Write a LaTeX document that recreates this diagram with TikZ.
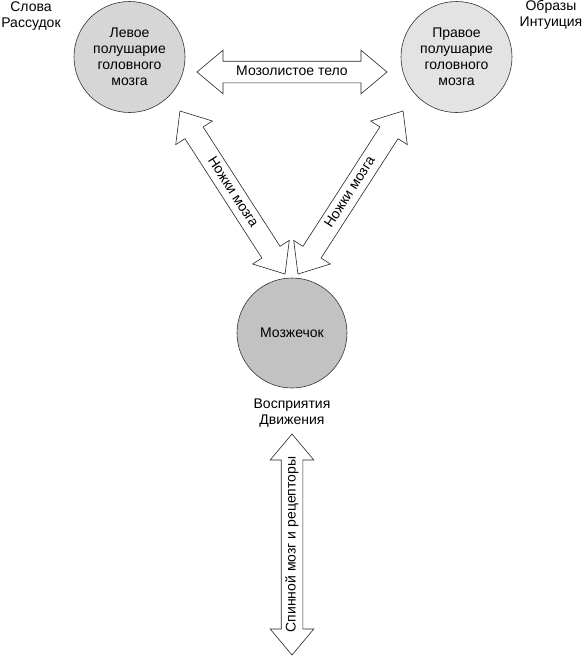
\documentclass[tikz,border=0pt]{standalone}
\usepackage{fontspec}
\setmainfont{Liberation Sans}
\usetikzlibrary{shapes.arrows,positioning}
\definecolor{leftgray}{gray}{0.84}
\definecolor{rightgray}{gray}{0.89}
\definecolor{cerebgray}{gray}{0.76}
\newcommand{\labelfont}{\fontsize{14}{16}\selectfont}

\begin{document}
\begin{tikzpicture}[x=1pt,y=-1pt,
    hemi/.style={circle, draw=black!80, line width=0.6pt, minimum size=111pt,
      inner sep=0pt, align=center, font=\labelfont},
    blockarrow/.style={double arrow, draw=black!85, line width=0.6pt, fill=white,
      double arrow head extend=11pt, double arrow tip angle=80,
      inner ysep=4pt, text height=10pt, text depth=3pt,
      minimum height=#1, font=\labelfont},
    caption/.style={align=center, font=\labelfont}]
  \useasboundingbox (0,0) rectangle (584,656);
  %draw hemispheres and cerebellum
    \node[hemi, fill=leftgray] (lh) at (129.5,57) {Левое\\полушарие\\головного\\мозга};
    \node[hemi, fill=rightgray] (rh) at (456.5,57) {Правое\\полушарие\\головного\\мозга};
    \node[hemi, fill=cerebgray, minimum size=110pt] (cb) at (292,333) {Мозжечок};
  %draw block arrows
    \node[blockarrow=190pt] (callosum) at (292,72) {Мозолистое тело};
    \node[blockarrow=194pt, rotate=-57.2] (lped) at (232.5,192.5) {Ножки мозга};
    \node[blockarrow=194pt, rotate=57.2] (rped) at (350.5,192.5) {Ножки мозга};
    \node[blockarrow=221pt, rotate=90] (spine) at (292,544.5) {Спинной мозг и рецепторы};
  %insert captions
    \node[caption] (words) at (31,16) {Слова\\Рассудок};
    \node[caption] (images) at (551,15) {Образы\\Интуиция};
    \node[caption] (percept) at (292,413) {Восприятия\\Движения};
\end{tikzpicture}
\end{document}
